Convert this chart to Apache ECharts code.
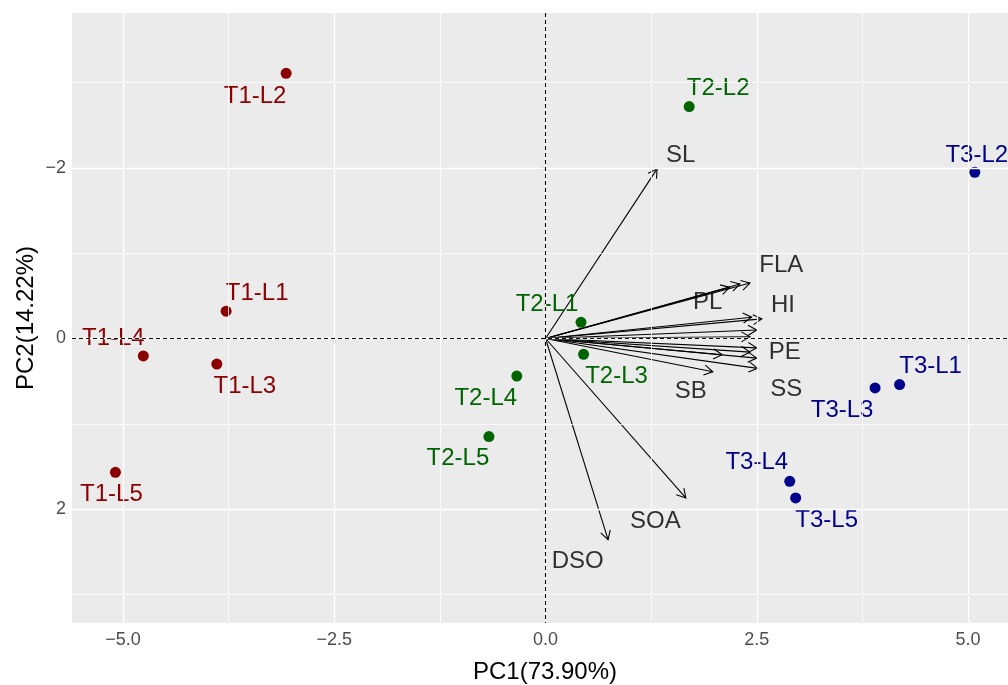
<!DOCTYPE html>
<html>
<head>
<meta charset="utf-8">
<script src="https://cdn.jsdelivr.net/npm/echarts@6/dist/echarts.min.js"></script>
<style>
html,body{margin:0;padding:0;background:#fff;}
#chart{width:1008px;height:685px;}
</style>
</head>
<body>
<div id="chart"></div>
<script>
// ---- data ----
const sampleNames = ['T1-L1','T1-L2','T1-L3','T1-L4','T1-L5',
                     'T2-L1','T2-L2','T2-L3','T2-L4','T2-L5',
                     'T3-L1','T3-L2','T3-L3','T3-L4','T3-L5'];
const sampleGroup = ['T1','T1','T1','T1','T1','T2','T2','T2','T2','T2','T3','T3','T3','T3','T3'];
const pc1 = [-3.78,-3.07,-3.89,-4.76,-5.09, 0.42,1.70,0.45,-0.34,-0.67, 4.19,5.08,3.90,2.89,2.96];
const pc2 = [-0.32,-3.11,0.30,0.205,1.57, -0.19,-2.72,0.185,0.44,1.15, 0.54,-1.95,0.58,1.675,1.87];

// loading arrows (tips)
const arrowX = [1.32,2.42,2.18,2.30,2.56,2.44,2.50,2.42,2.50,2.42,2.09,2.50,2.51,1.98,1.66,0.74];
const arrowY = [-1.99,-0.65,-0.60,-0.64,-0.23,-0.25,-0.10,-0.02,0.11,0.16,0.19,0.23,0.35,0.39,1.87,2.36];

// variable labels
const varNames = ['SL','FLA','PL','HI','PE','SS','SB','SOA','DSO'];
const varLabelX = [1.60,2.79,1.92,2.81,2.83,2.85,1.72,1.30,0.38];
const varLabelY = [-2.15,-0.86,-0.42,-0.39,0.16,0.60,0.62,2.15,2.62];

const xTicks = [-5.0,-2.5,0.0,2.5,5.0];
const yTicks = [-2,0,2];
const xMinor = [-3.75,-1.25,1.25,3.75];
const yMinor = [-3,-1,1,3];

// ---- styling (not data) ----
const groupColors = {T1:'#8B0000', T2:'#006400', T3:'#00008B'};
const labelOffsets = [[31,-18],[-31,23],[28,22],[-30,-18],[-4,22],
                      [-34,-18],[29,-18],[33,22],[-31,22],[-31,22],
                      [31,-18],[2,-17],[-33,22],[-33,-19],[31,22]];
const FONT = 'Liberation Sans, Arial, sans-serif';
const fmtMinus = (s) => s.replace('-', '\u2212');

const chart = echarts.init(document.getElementById('chart'));

const pointData = sampleNames.map((n,i)=>({
  name:n,
  value:[pc1[i],pc2[i]],
  itemStyle:{color:groupColors[sampleGroup[i]], opacity:1},
  label:{offset:labelOffsets[i], color:groupColors[sampleGroup[i]]}
}));

const gridLines = [];
xTicks.forEach(v=>gridLines.push({xAxis:v, lineStyle:{color:'#ffffff',width:1.3,type:'solid'}}));
xMinor.forEach(v=>gridLines.push({xAxis:v, lineStyle:{color:'#ffffff',width:0.8,type:'solid'}}));
yTicks.forEach(v=>gridLines.push({yAxis:v, lineStyle:{color:'#ffffff',width:1.3,type:'solid'}}));
yMinor.forEach(v=>gridLines.push({yAxis:v, lineStyle:{color:'#ffffff',width:0.8,type:'solid'}}));

const option = {
  animation:false,
  grid:{left:72, top:13, right:0, bottom:62, show:true, backgroundColor:'#EBEBEB', borderWidth:0, containLabel:false},
  xAxis:{
    type:'value', min:-5.604, max:5.473,
    axisLine:{show:false},
    splitLine:{show:false},
    axisTick:{show:true, length:5, lineStyle:{color:'#333333',width:1.2}, customValues:xTicks},
    axisLabel:{color:'#4D4D4D', fontSize:18, fontFamily:FONT, margin:8, customValues:xTicks,
      formatter:(v)=>fmtMinus(Number(v).toFixed(1))}
  },
  yAxis:{
    type:'value', inverse:true, min:-3.818, max:3.337,
    axisLine:{show:false},
    splitLine:{show:false},
    axisTick:{show:true, length:5, lineStyle:{color:'#333333',width:1.2}, customValues:yTicks},
    axisLabel:{color:'#4D4D4D', fontSize:18, fontFamily:FONT, margin:6, customValues:yTicks,
      formatter:(v)=>fmtMinus(String(Math.round(v)))}
  },
  graphic:[
    {type:'text', x:545, y:672, style:{text:'PC1(73.90%)', fill:'#000', font:'24px '+FONT, textAlign:'center', textVerticalAlign:'middle'}},
    {type:'text', x:26, y:318, rotation:Math.PI/2, style:{text:'PC2(14.22%)', fill:'#000', font:'24px '+FONT, textAlign:'center', textVerticalAlign:'middle'}}
  ],
  series:[
    {
      type:'scatter', data:[], z:1, silent:true,
      markLine:{silent:true, symbol:['none','none'], label:{show:false}, animation:false, data:gridLines}
    },
    {
      type:'scatter', data:[], z:2, silent:true,
      markLine:{silent:true, symbol:['none','none'], label:{show:false}, animation:false,
        lineStyle:{color:'#000',width:1.1,type:[4,3]},
        data:[{xAxis:0},{yAxis:0}]}
    },
    {
      type:'custom', z:3, silent:true,
      data: arrowX.map((x,i)=>[x, arrowY[i]]),
      encode:{x:0,y:1},
      renderItem:(params, api)=>{
        const p0 = api.coord([0,0]);
        const p1 = api.coord([api.value(0), api.value(1)]);
        const ang = Math.atan2(p1[1]-p0[1], p1[0]-p0[0]);
        const L = 10, A = Math.PI/6;
        const h1 = [p1[0]-L*Math.cos(ang-A), p1[1]-L*Math.sin(ang-A)];
        const h2 = [p1[0]-L*Math.cos(ang+A), p1[1]-L*Math.sin(ang+A)];
        return {type:'group', children:[
          {type:'line', shape:{x1:p0[0],y1:p0[1],x2:p1[0],y2:p1[1]}, style:{stroke:'#000',lineWidth:1.1}},
          {type:'polyline', shape:{points:[h1,p1,h2]}, style:{stroke:'#000',lineWidth:1.1,fill:null}}
        ]};
      }
    },
    {
      type:'scatter', z:4, symbol:'circle', symbolSize:11,
      itemStyle:{opacity:1},
      data:pointData,
      label:{show:true, position:'inside', formatter:'{b}', fontSize:24, fontFamily:FONT, opacity:1}
    },
    {
      type:'scatter', z:5, symbol:'circle', symbolSize:1, itemStyle:{color:'rgba(0,0,0,0)'},
      data: varNames.map((n,i)=>({name:n, value:[varLabelX[i], varLabelY[i]]})),
      label:{show:true, position:'inside', formatter:'{b}', color:'#000', fontSize:24, fontFamily:FONT}
    }
  ]
};
chart.setOption(option);
</script>
</body>
</html>
